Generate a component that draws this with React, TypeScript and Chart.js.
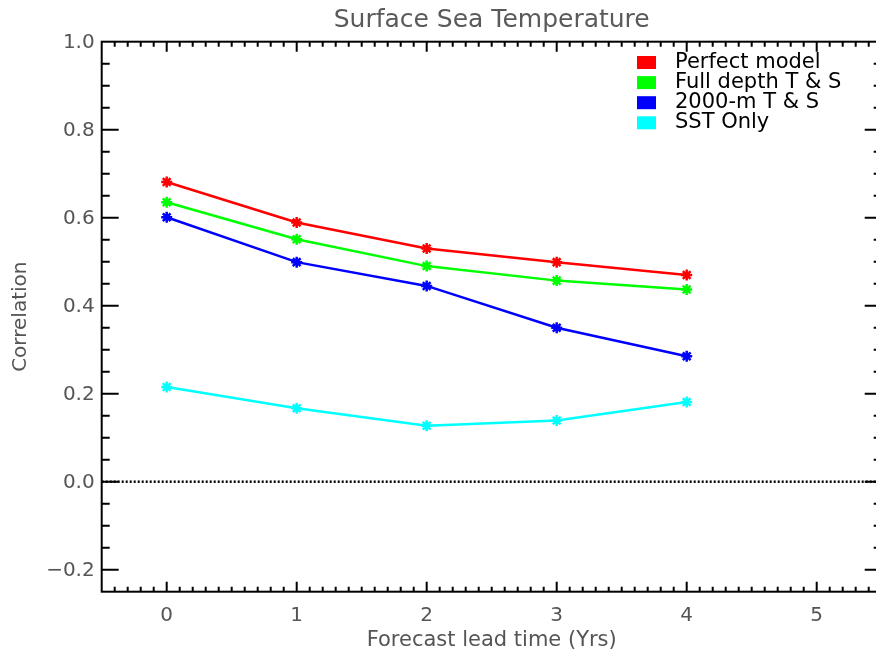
import React, { useEffect, useRef } from 'react';
import { Chart, registerables } from 'chart.js';

Chart.register(...registerables);

// ---- data ----
const leadTimes = [0, 1, 2, 3, 4];
const perfectModel = [0.681, 0.589, 0.53, 0.499, 0.47];
const fullDepthTS = [0.635, 0.551, 0.49, 0.457, 0.437];
const twoThousandTS = [0.601, 0.499, 0.445, 0.35, 0.285];
const sstOnly = [0.215, 0.167, 0.127, 0.139, 0.181];
const seriesLabels = ['Perfect model', 'Full depth T & S', '2000-m T & S', 'SST Only'];
const seriesColors = ['#ff0000', '#00ff00', '#0000ff', '#00ffff'];
const xTickValues = [0, 1, 2, 3, 4, 5];
const yTickValues = [-0.2, 0, 0.2, 0.4, 0.6, 0.8, 1.0];
const zeroLineX = [-0.5, 5.5];
const zeroLineY = [0, 0];
const chartTitle = 'Surface Sea Temperature';
const xTitle = 'Forecast lead time (Yrs)';
const yTitle = 'Correlation';

const FONT = "'DejaVu Sans', sans-serif";
const GREY = '#555555';

const idlAxesPlugin = {
  id: 'idlAxes',
  afterDraw(chart: any) {
    const { ctx, chartArea, scales } = chart;
    const { left, right, top, bottom } = chartArea;
    const xs = scales.x;
    const ys = scales.y;
    ctx.save();
    ctx.strokeStyle = '#000';
    ctx.lineWidth = 2;
    ctx.strokeRect(left, top, right - left, bottom - top);
    ctx.beginPath();
    for (let i = -4; i <= 54; i++) {
      const px = xs.getPixelForValue(i / 10);
      const len = i % 10 === 0 ? 10 : 5;
      ctx.moveTo(px, bottom);
      ctx.lineTo(px, bottom - len);
      ctx.moveTo(px, top);
      ctx.lineTo(px, top + len);
    }
    for (let i = -4; i <= 19; i++) {
      const py = ys.getPixelForValue(i * 0.05);
      const len = i % 4 === 0 ? 17 : 8;
      ctx.moveTo(left, py);
      ctx.lineTo(left + len, py);
      ctx.moveTo(right, py);
      ctx.lineTo(right - len, py);
    }
    ctx.stroke();
    ctx.restore();
  },
};

const idlLegendPlugin = {
  id: 'idlLegend',
  afterDraw(chart: any) {
    const { ctx } = chart;
    ctx.save();
    ctx.font = `21px ${FONT}`;
    ctx.textBaseline = 'middle';
    ctx.textAlign = 'left';
    seriesLabels.forEach((label, i) => {
      const cy = 62.5 + i * 20.1;
      ctx.fillStyle = seriesColors[i];
      ctx.fillRect(637, cy - 6.5, 19, 13);
      ctx.fillStyle = '#000';
      ctx.fillText(label, 675, cy);
    });
    ctx.restore();
  },
};

export default function App() {
  const ref = useRef<HTMLCanvasElement | null>(null);

  useEffect(() => {
    if (!ref.current) return;
    const seriesValues = [perfectModel, fullDepthTS, twoThousandTS, sstOnly];
    const datasets: any[] = seriesValues.map((vals, i) => ({
      label: seriesLabels[i],
      data: leadTimes.map((x, j) => ({ x, y: vals[j] })),
      borderColor: seriesColors[i],
      backgroundColor: seriesColors[i],
      borderWidth: 2.5,
      pointStyle: 'star',
      pointRadius: 5.5,
      pointBorderWidth: 2.5,
      tension: 0,
    }));
    datasets.push({
      label: 'zero',
      data: zeroLineX.map((x, j) => ({ x, y: zeroLineY[j] })),
      borderColor: '#000',
      borderWidth: 2.5,
      borderDash: [2, 2],
      pointRadius: 0,
    });

    const chart = new Chart(ref.current, {
      type: 'line',
      data: { datasets },
      plugins: [idlAxesPlugin, idlLegendPlugin],
      options: {
        responsive: false,
        animation: false,
        devicePixelRatio: 1,
        layout: { padding: { left: 0, right: 8.3, top: 0, bottom: 0 } },
        plugins: {
          legend: { display: false },
          tooltip: { enabled: false },
          title: {
            display: true,
            text: chartTitle,
            fullSize: false,
            color: '#5a5a5a',
            font: { family: FONT, size: 25, weight: 'normal' },
            padding: { top: 5, bottom: 6.7 },
          },
        },
        scales: {
          x: {
            type: 'linear',
            min: -0.5,
            max: 5.5,
            grid: { display: false, drawTicks: false },
            border: { display: false },
            afterBuildTicks: (s: any) => {
              s.ticks = xTickValues.map((v) => ({ value: v }));
            },
            afterFit: (s: any) => {
              s.height = 65.3;
            },
            ticks: {
              padding: 12,
              color: GREY,
              font: { family: FONT, size: 20 },
              maxRotation: 0,
              autoSkip: false,
              callback: (v: any) => String(v),
            },
            title: {
              display: true,
              text: xTitle,
              color: GREY,
              font: { family: FONT, size: 21 },
              padding: { top: 0, bottom: 4 },
            },
          },
          y: {
            type: 'linear',
            min: -0.25,
            max: 1.0,
            grid: { display: false, drawTicks: false },
            border: { display: false },
            afterBuildTicks: (s: any) => {
              s.ticks = yTickValues.map((v) => ({ value: v }));
            },
            afterFit: (s: any) => {
              s.width = 101.7;
            },
            ticks: {
              padding: 7,
              color: GREY,
              font: { family: FONT, size: 20 },
              autoSkip: false,
              labelOffset: 1.5,
              callback: (v: any) => Number(v).toFixed(1).replace('-', '\u2212'),
            },
            title: {
              display: true,
              text: yTitle,
              color: GREY,
              font: { family: FONT, size: 20 },
              padding: { top: 9, bottom: 0 },
            },
          },
        },
      } as any,
    });
    return () => chart.destroy();
  }, []);

  return (
    <div
      style={{
        position: 'absolute',
        left: 0,
        top: 0,
        width: 876,
        height: 657,
        overflow: 'hidden',
        background: '#fff',
      }}
    >
      <canvas ref={ref} width={890} height={657} style={{ width: 890, height: 657, display: 'block' }} />
    </div>
  );
}
